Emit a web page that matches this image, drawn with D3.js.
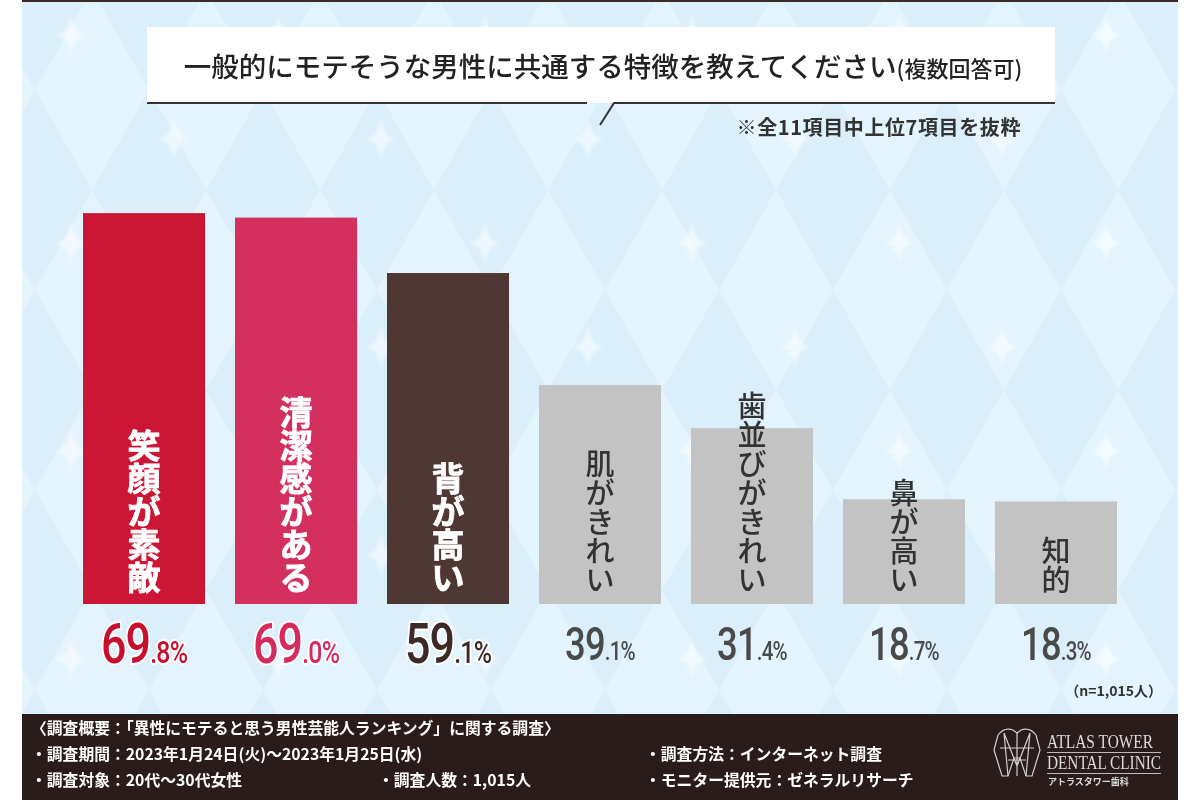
<!DOCTYPE html>
<html>
<head>
<meta charset="utf-8">
<script src="https://cdn.jsdelivr.net/npm/d3@7"></script>
<style>
  body { margin: 0; background: #fff; }
  svg { display: block; font-family: "Noto Sans CJK JP", "Noto Sans", sans-serif; }
</style>
</head>
<body>
<div id="chart"></div>
<script>
// data
const categories = ["笑顔が素敵", "清潔感がある", "背が高い", "肌がきれい", "歯並びがきれい", "鼻が高い", "知的"];
const values = [69.8, 69.0, 59.1, 39.1, 31.4, 18.7, 18.3];
const highlighted = ["笑顔が素敵", "清潔感がある", "背が高い"];

const titleMain = "一般的にモテそうな男性に共通する特徴を教えてください";
const titleSub = "(複数回答可)";
const note = "※全11項目中上位7項目を抜粋";
const sampleNote = "（n=1,015人）";
const footerLeft = [
    "〈調査概要：「異性にモテると思う男性芸能人ランキング」に関する調査〉",
    "・調査期間：2023年1月24日(火)～2023年1月25日(水)",
    "・調査対象：20代～30代女性"
];
const footerMid = "・調査人数：1,015人";
const footerRight = ["・調査方法：インターネット調査", "・モニター提供元：ゼネラルリサーチ"];

const W = 1200, H = 800;
const svg = d3.select("#chart").append("svg").attr("width", W).attr("height", H);

// background: pale blue harlequin with sparkles
let defs = svg.append("defs");
let pat = defs.append("pattern").attr("id", "diamonds")
    .attr("patternUnits", "userSpaceOnUse")
    .attr("x", 35).attr("y", -10)
    .attr("width", 114).attr("height", 200);
pat.append("rect").attr("width", 114).attr("height", 200).attr("fill", "#dbeffa");
pat.append("path").attr("d", "M57,0 L114,100 L57,200 L0,100 Z").attr("fill", "#e4f4fc");
defs.append("filter").attr("id", "soft").append("feGaussianBlur").attr("stdDeviation", 1.6);

svg.append("rect").attr("x", 22).attr("y", 0).attr("width", 1156).attr("height", 714)
    .attr("fill", "url(#diamonds)");
svg.append("rect").attr("x", 22).attr("y", 0).attr("width", 1156).attr("height", 2).attr("fill", "#3a2a28");

let sparkles = [];
for (let k = 0; k < 7; k++) {
    for (let i = -1; i < 6; i++) {
        sparkles.push([71 + 207 * i + (k % 2 ? 103 : 0), 35 + 104 * k]);
    }
}
let star = "M0,-22 Q2,-2 16,0 Q2,2 0,22 Q-2,2 -16,0 Q-2,-2 0,-22 Z";
svg.append("g").attr("filter", "url(#soft)")
    .selectAll("path").data(sparkles.filter(d => d[0] > 40 && d[0] < 1160 && d[1] < 700))
    .join("path")
    .attr("d", star)
    .attr("transform", d => `translate(${d[0]},${d[1]})`)
    .attr("fill", "#ffffff").attr("opacity", 0.5);

// title bubble
svg.append("rect").attr("x", 147).attr("y", 27).attr("width", 908).attr("height", 76).attr("fill", "#fff");
svg.append("path")
    .attr("d", "M147,103 H587 M1055,103 H614 L600,125")
    .attr("fill", "none").attr("stroke", "#333").attr("stroke-width", 2);

let title = svg.append("text").attr("x", 603).attr("y", 77)
    .attr("text-anchor", "middle").attr("fill", "#222").attr("font-weight", 500);
title.append("tspan").attr("font-size", 27.5).text(titleMain);
title.append("tspan").attr("font-size", 22).text(titleSub);

svg.append("text").attr("x", 1021).attr("y", 135).attr("text-anchor", "end")
    .attr("font-size", 20).attr("letter-spacing", 0.6)
    .attr("font-weight", 700).attr("fill", "#333").text(note);

// scales
const x = d3.scaleBand().domain(categories).range([83, 1117]).paddingInner(0.197).paddingOuter(0);
const y = d3.scaleLinear().domain([0, 100]).range([604, 44]);
const barColor = d3.scaleOrdinal().domain(categories)
    .range(["#cc1636", "#d4305f", "#4f3733", "#c3c3c3", "#c3c3c3", "#c3c3c3", "#c3c3c3"]);
const valueColor = d3.scaleOrdinal().domain(categories)
    .range(["#c8102e", "#d42a5c", "#3d2a26", "#4a4a4a", "#4a4a4a", "#4a4a4a", "#4a4a4a"]);

const data = categories.map((c, i) => ({ cat: c, value: values[i], hi: highlighted.includes(c) }));

svg.append("g").selectAll("rect").data(data).join("rect")
    .attr("x", d => x(d.cat))
    .attr("y", d => y(d.value))
    .attr("width", x.bandwidth())
    .attr("height", d => y(0) - y(d.value))
    .attr("fill", d => barColor(d.cat));

// vertical labels, stacked char by char up from the bar foot
let labels = svg.append("g");
data.forEach(d => {
    let chars = Array.from(d.cat);
    let fs = d.hi ? 33 : 29;
    let bottom = y(0) - 12;
    let cx = x(d.cat) + x.bandwidth() / 2;
    chars.forEach((ch, i) => {
        labels.append("text")
            .attr("x", cx)
            .attr("y", bottom - fs * (chars.length - 1 - i) - fs / 2)
            .attr("text-anchor", "middle").attr("dominant-baseline", "central")
            .attr("font-size", fs)
            .attr("font-weight", d.hi ? 700 : 500)
            .attr("fill", d.hi ? "#fff" : "#333")
            .attr("stroke", d.hi ? "#fff" : "none").attr("stroke-width", d.hi ? 0.8 : 0)
            .text(ch);
    });
});

// value labels
let vals = svg.append("g");
data.forEach(d => {
    let parts = d.value.toFixed(1).split(".");
    let big = d.hi ? 56 : 46;
    let small = d.hi ? 31 : 26;
    let t = vals.append("text")
        .attr("transform", `translate(${x(d.cat) + x.bandwidth() / 2},${d.hi ? 663 : 660}) scale(${d.hi ? 0.8 : 0.79},1)`)
        .attr("text-anchor", "middle")
        .style("font-family", "Roboto, sans-serif")
        .attr("font-weight", 500)
        .attr("fill", valueColor(d.cat))
        .attr("stroke", "#fff").attr("stroke-width", d.hi ? 4 : 0)
        .attr("paint-order", "stroke")
        .attr("letter-spacing", -1);
    t.append("tspan").attr("font-size", big).text(parts[0]);
    t.append("tspan").attr("font-size", small).text("." + parts[1] + "%");
});

svg.append("text").attr("x", 1162).attr("y", 696).attr("text-anchor", "end")
    .attr("font-size", 14).attr("font-weight", 700).attr("fill", "#333").text(sampleNote);

// footer
svg.append("rect").attr("x", 22).attr("y", 714).attr("width", 1156).attr("height", 86).attr("fill", "#2a1c1b");
let foot = svg.append("g").attr("fill", "#fff").attr("font-size", 15.8).attr("font-weight", 700);
footerLeft.forEach((s, i) => {
    foot.append("text").attr("x", 31).attr("y", 734 + i * 26).text(s);
});
foot.append("text").attr("x", 378).attr("y", 786).text(footerMid);
footerRight.forEach((s, i) => {
    foot.append("text").attr("x", 645).attr("y", 760 + i * 26).text(s);
});

// clinic logo
let logo = svg.append("g").attr("stroke", "#cfcfcf").attr("fill", "none").attr("stroke-width", 1.2);
logo.append("path").attr("d",
    "M998,735 Q1004,727 1013,730 L1017,733 L1021,730 Q1030,727 1036,735 L1040,750 L1032,776 L1026,776 L1020,758 L1014,758 L1008,776 L1002,776 L994,750 Z");
logo.append("path").attr("d",
    "M1004,733 L1017,766 L1030,733 M1017,733 L1017,776 M1000,748 L1034,748 M1004,733 L1008,776 M1030,733 L1026,776 M1008,760 L1026,760");
let logoText = svg.append("g").attr("fill", "#dcdcdc")
    .style("font-family", "'Liberation Serif', 'DejaVu Serif', serif");
logoText.append("text").attr("x", 1047).attr("y", 748).attr("font-size", 18)
    .attr("textLength", 106).attr("lengthAdjust", "spacingAndGlyphs").text("ATLAS TOWER");
logoText.append("text").attr("x", 1047).attr("y", 769).attr("font-size", 18)
    .attr("textLength", 114).attr("lengthAdjust", "spacingAndGlyphs").text("DENTAL CLINIC");
svg.append("path").attr("d", "M1047,752.5 H1161 M1047,773.5 H1161")
    .attr("stroke", "#bdbdbd").attr("stroke-width", 1);
svg.append("text").attr("x", 1048).attr("y", 785).attr("font-size", 9).attr("font-weight", 700)
    .attr("fill", "#dcdcdc").text("アトラスタワー歯科");
</script>
</body>
</html>
